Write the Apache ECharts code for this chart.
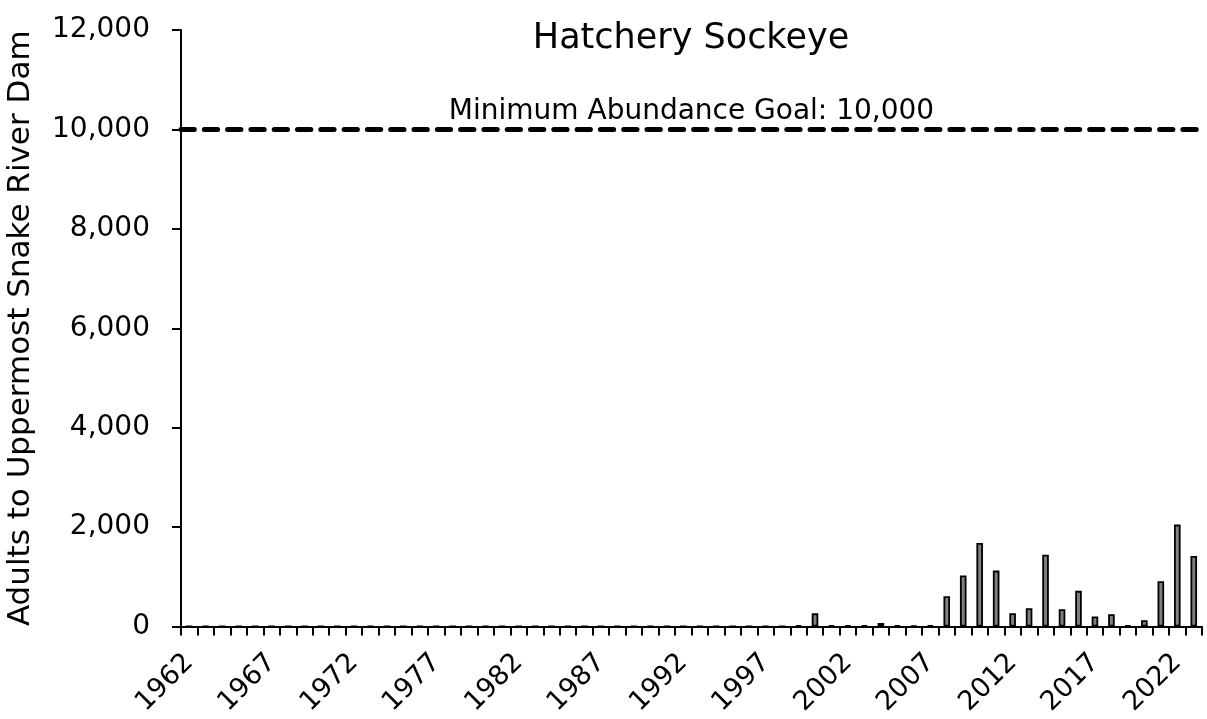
<!DOCTYPE html>
<html><head><meta charset="utf-8">
<script src="https://cdn.jsdelivr.net/npm/echarts@6/dist/echarts.min.js"></script>
<style>html,body{margin:0;padding:0;background:#fff}#c{width:1207px;height:719px}</style>
</head><body><div id="c"></div>
<script>
const years = [];
for (let y = 1962; y <= 2023; y++) years.push(String(y));
// 1962–1998 had no hatchery returns
const earlyValues = new Array(37).fill(0);
const laterValues = [25, 265, 20, 20, 20, 70, 20, 15, 20, 610, 1025, 1680, 1125, 268, 368, 1445, 348, 717, 200, 248, 20, 127, 910, 2050, 1420];
const values = earlyValues.concat(laterValues);
const goal = 10000;
const yTicks = [0, 2000, 4000, 6000, 8000, 10000, 12000];

const font = 'DejaVu Sans';
const chart = echarts.init(document.getElementById('c'));
chart.setOption({
  animation: false,
  textStyle: { fontFamily: font },
  title: { text: 'Hatchery Sockeye', left: 686, top: 16, textAlign: 'center',
    textStyle: { fontFamily: font, fontSize: 35, fontWeight: 'normal', color: '#000' } },
  grid: { left: 181, right: 5, top: 30, bottom: 92.5, containLabel: false, outerBoundsMode: 'none' },
  xAxis: {
    type: 'category', data: years, boundaryGap: true,
    axisLine: { lineStyle: { color: '#000', width: 2 } },
    axisTick: { show: true, interval: 0, length: 9, lineStyle: { color: '#000', width: 2 } },
    axisLabel: { interval: 4, rotate: 45, margin: 32, color: '#000', fontSize: 27, fontFamily: font }
  },
  yAxis: {
    type: 'value', min: yTicks[0], max: yTicks[yTicks.length - 1], interval: 2000,
    name: 'Adults to Uppermost Snake River Dam', nameLocation: 'middle', nameGap: 145,
    nameTextStyle: { fontSize: 31, color: '#000', fontFamily: font },
    axisLine: { show: true, lineStyle: { color: '#000', width: 2 } },
    axisTick: { show: true, length: 9, lineStyle: { color: '#000', width: 2 } },
    splitLine: { show: false },
    axisLabel: { margin: 31, color: '#000', fontSize: 28, fontFamily: font,
      formatter: v => v.toLocaleString('en-US') }
  },
  series: [{
    type: 'bar', data: values, barWidth: '40%',
    itemStyle: { color: '#808080', borderColor: '#000', borderWidth: 1.8 },
    markLine: {
      symbol: 'none', silent: true,
      lineStyle: { color: '#000', type: [13.3, 10], cap: 'round', width: 5 },
      label: { show: true, position: 'middle', formatter: 'Minimum Abundance Goal: 10,000',
        color: '#000', fontSize: 28, fontFamily: font, distance: 4 },
      data: [{ yAxis: goal }]
    }
  }]
});
</script></body></html>
